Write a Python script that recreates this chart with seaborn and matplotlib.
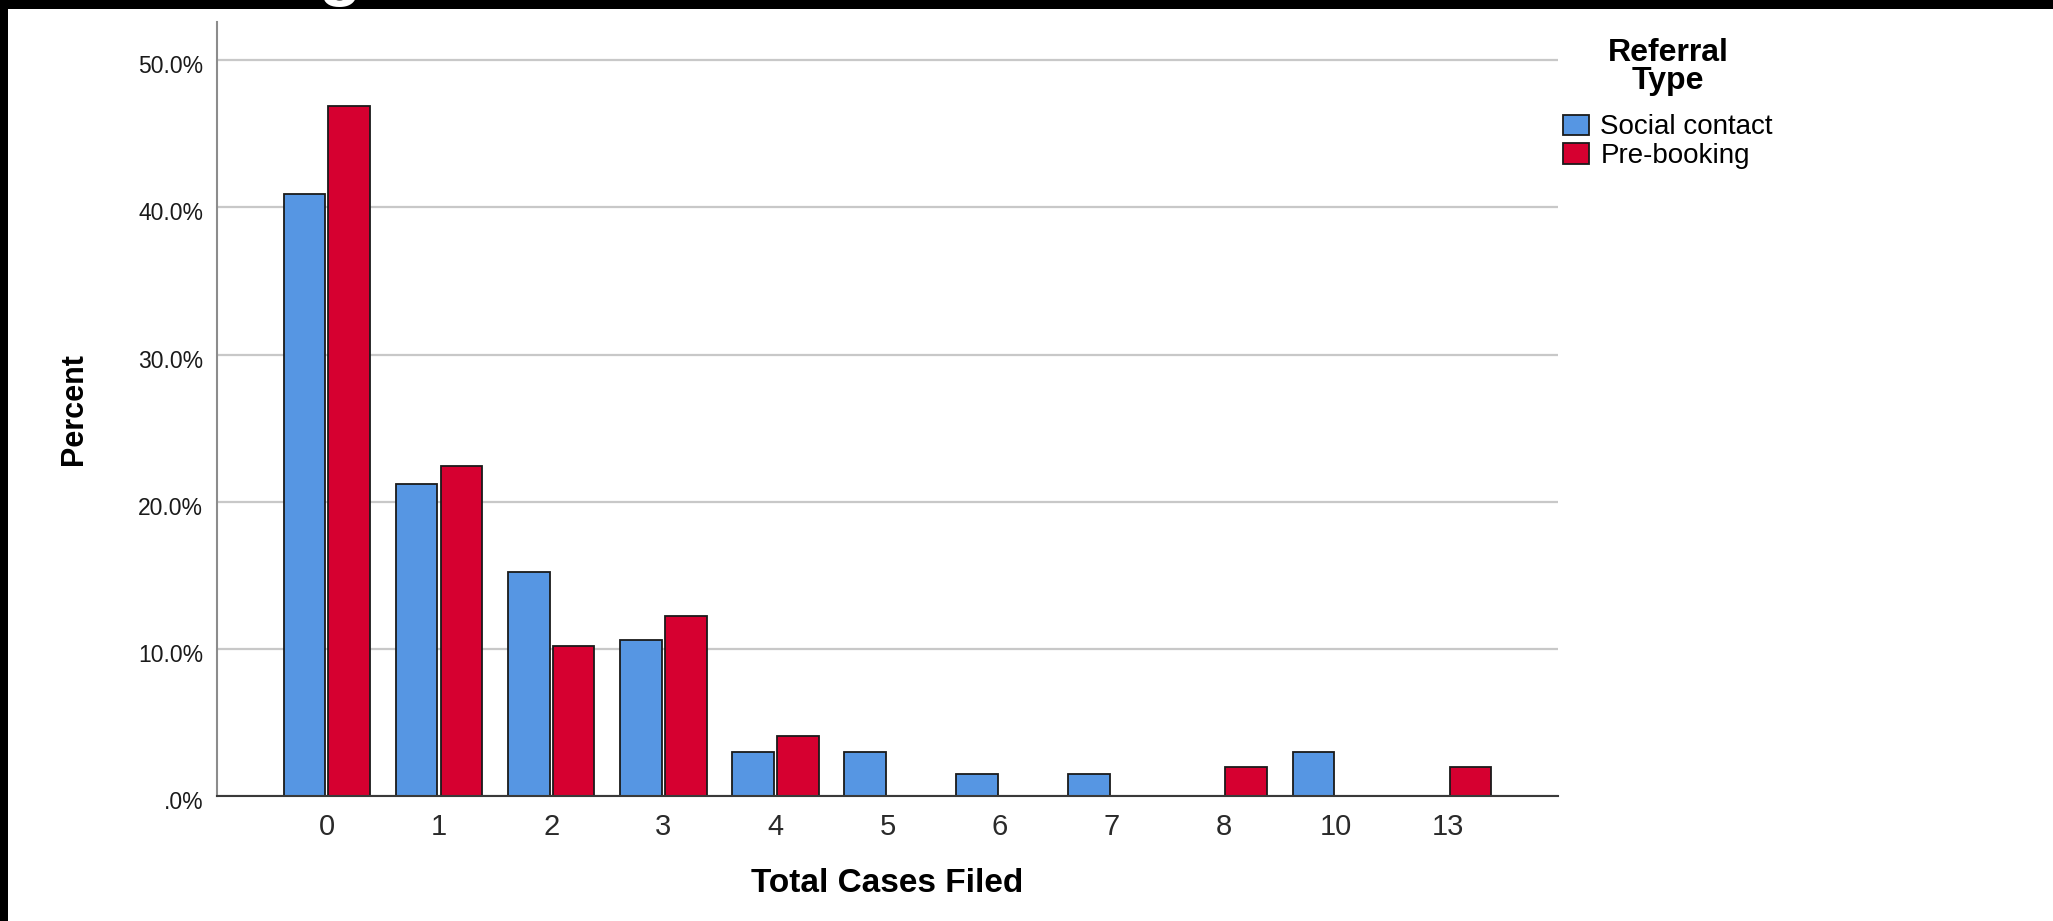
import pandas as pd
import matplotlib.pyplot as plt
import matplotlib.transforms as mtransforms
from matplotlib.patches import Rectangle
import seaborn as sns

# Data (percent of each referral type)
cases = ['0', '1', '2', '3', '4', '5', '6', '7', '8', '10', '13']
social_contact = [40.9, 21.2, 15.2, 10.6, 3.0, 3.0, 1.5, 1.5, 0.0, 3.0, 0.0]
pre_booking = [46.9, 22.4, 10.2, 12.2, 4.1, 0.0, 0.0, 0.0, 2.0, 0.0, 2.0]
series_names = ['Social contact', 'Pre-booking']
y_ticks = [0, 10, 20, 30, 40, 50]
y_tick_labels = ['.0%', '10.0%', '20.0%', '30.0%', '40.0%', '50.0%']

df = pd.DataFrame({
    'Total Cases Filed': cases * 2,
    'Percent': social_contact + pre_booking,
    'Referral Type': [series_names[0]] * len(cases) + [series_names[1]] * len(cases),
})

sns.set_style('white')
plt.rcParams['font.family'] = ['Liberation Sans', 'DejaVu Sans']
plt.rcParams['text.color'] = 'black'
plt.rcParams['axes.labelcolor'] = 'black'

W, H = 2053, 921
fig = plt.figure(figsize=(W / 100, H / 100), dpi=100)
ax = fig.add_axes([217 / W, 1 - 796 / H, (1558 - 217) / W, (796 - 22) / H])

sns.barplot(data=df, x='Total Cases Filed', y='Percent', hue='Referral Type',
            order=cases, hue_order=series_names,
            palette=['#5696E3', '#D60030'], saturation=1, width=0.8, gap=0.07,
            edgecolor='#1a1a1a', linewidth=1.3, ax=ax)

ax.set_xlim(-0.98, 10.98)
ax.set_ylim(0, 52.6)
ax.set_yticks(y_ticks)
ax.set_yticklabels(y_tick_labels)
ax.yaxis.grid(True, color='#c8c8c8', linewidth=1.6)
ax.xaxis.grid(False)
ax.set_axisbelow(True)

for side in ['top', 'right']:
    ax.spines[side].set_visible(False)
ax.spines['left'].set_color('#8c8c8c')
ax.spines['left'].set_linewidth(1.5)
ax.spines['bottom'].set_color('#3a3a3a')
ax.spines['bottom'].set_linewidth(1.5)

ax.tick_params(axis='x', length=0, pad=12, labelsize=21, labelcolor='#2a2a2a')
ax.tick_params(axis='y', length=0, pad=10, labelsize=16.5, labelcolor='#1a1a1a')
offset = mtransforms.ScaledTranslation(0, -4 / 100, fig.dpi_scale_trans)
for lbl in ax.get_yticklabels():
    lbl.set_transform(lbl.get_transform() + offset)

ax.set_xlabel('Total Cases Filed', fontsize=24, fontweight='bold', va='center')
ax.xaxis.set_label_coords(0.5, -(883 - 796) / 774)
ax.set_ylabel('Percent', fontsize=22, fontweight='bold', va='center')
ax.yaxis.set_label_coords((74 - 217) / 1341, 0.5)

# Legend at the right
handles, labels = ax.get_legend_handles_labels()
ax.legend(handles, labels, title='Referral\nType', loc='upper left',
          bbox_to_anchor=(1563 / W, 1 - 38 / H), bbox_transform=fig.transFigure,
          frameon=False, borderpad=0, borderaxespad=0, fontsize=20,
          labelspacing=0.1, handlelength=0.95, handleheight=0.75,
          handletextpad=0.4,
          title_fontproperties={'weight': 'bold', 'size': 23})
leg = ax.get_legend()
leg.get_title().set_linespacing(0.93)
leg.get_title().set_multialignment('center')
leg._legend_box.sep = 13

# Black frame edges from the screenshot
fig.add_artist(Rectangle((0, 1 - 9 / H), 1, 9 / H, transform=fig.transFigure,
                         facecolor='black', edgecolor='none', zorder=5))
fig.add_artist(Rectangle((0, 0), 8 / W, 1, transform=fig.transFigure,
                         facecolor='black', edgecolor='none', zorder=5))
fig.text(339 / W, 1 + 7 / H, 'g', color='white', fontsize=50, fontweight='bold',
         ha='center', va='baseline', zorder=6)

fig.savefig('out.png', dpi=100)
